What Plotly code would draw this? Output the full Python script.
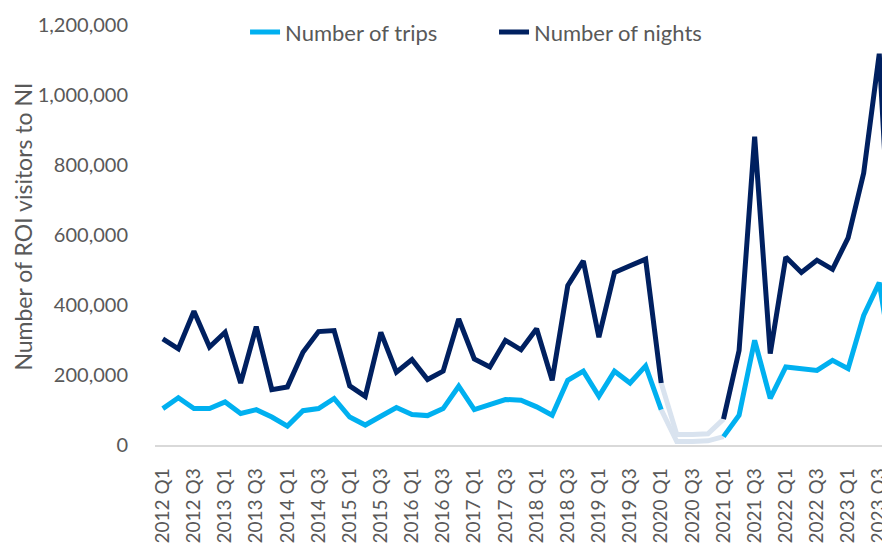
import plotly.graph_objects as go

quarters = [f"{y} Q{q}" for y in range(2012, 2024) for q in range(1, 5)]

trips = [104000, 135000, 104000, 104000, 123000, 90000, 101000, 80000, 54000, 98000,
         104000, 133000, 80000, 57000, 82000, 107000, 87000, 84000, 104000, 168000,
         101000, 114000, 130000, 128000, 109000, 85000, 185000, 211000, 139000, 211000,
         177000, 226000, 101000, 10000, 10000, 12000, 24000, 85000, 299000, 133000,
         223000, 218000, 213000, 242000, 218000, 370000, 464000, 189000]

nights = [303000, 275000, 382000, 280000, 322000, 177000, 338000, 158000, 166000, 265000,
          324000, 327000, 169000, 139000, 322000, 208000, 244000, 187000, 211000, 360000,
          246000, 223000, 299000, 272000, 332000, 185000, 455000, 526000, 308000, 493000,
          512000, 531000, 177000, 30000, 30000, 32000, 74000, 270000, 881000, 261000,
          537000, 493000, 528000, 502000, 592000, 777000, 1118000, 300000]

# quarters affected by the data-collection gap (drawn in a pale colour)
gap_quarters = ["2020 Q1", "2020 Q2", "2020 Q3", "2020 Q4", "2021 Q1"]
inner_gap = gap_quarters[1:-1]

y_ticks = [0, 200000, 400000, 600000, 800000, 1000000, 1200000]

TRIPS_C = "#00B0F0"
NIGHTS_C = "#002060"
GAP_C = "#D9E3EF"
TEXT_C = "#595959"
FONT = "Lato"

def main_part(vals):
    return [None if q in inner_gap else v for q, v in zip(quarters, vals)]

def gap_part(vals):
    return [v if q in gap_quarters else None for q, v in zip(quarters, vals)]

fig = go.Figure()
fig.add_trace(go.Scatter(x=quarters, y=gap_part(nights), mode="lines",
                         line=dict(color=GAP_C, width=5), showlegend=False,
                         hoverinfo="skip"))
fig.add_trace(go.Scatter(x=quarters, y=gap_part(trips), mode="lines",
                         line=dict(color=GAP_C, width=5), showlegend=False,
                         hoverinfo="skip"))
fig.add_trace(go.Scatter(x=quarters, y=main_part(trips), mode="lines",
                         name="Number of trips",
                         line=dict(color=TRIPS_C, width=5)))
fig.add_trace(go.Scatter(x=quarters, y=main_part(nights), mode="lines",
                         name="Number of nights",
                         line=dict(color=NIGHTS_C, width=5)))

fig.update_layout(
    width=890, height=544,
    margin=dict(l=147, r=8, t=17, b=107, autoexpand=False),
    paper_bgcolor="white", plot_bgcolor="white",
    font=dict(family=FONT, size=20, color=TEXT_C),
    legend=dict(orientation="h", x=0.1225, xanchor="left", y=0.983, yanchor="middle",
                font=dict(size=22, color=TEXT_C), bgcolor="rgba(0,0,0,0)",
                entrywidth=204, traceorder="normal"),
    xaxis=dict(type="category", categoryorder="array", categoryarray=quarters,
               range=[-0.5, 46.69],
               tickmode="array", tickvals=quarters[::2], ticktext=quarters[::2],
               tickangle=-90, tickfont=dict(size=19, color=TEXT_C),
               ticks="outside", ticklen=14, tickcolor="rgba(0,0,0,0)",
               showline=True, linecolor="#D9D9D9", linewidth=1.5,
               showgrid=False, zeroline=False, automargin=False),
    yaxis=dict(range=[0, 1200000], tickvals=y_ticks, tickformat=",",
               tickfont=dict(size=20, color=TEXT_C),
               ticks="outside", ticklen=22, tickcolor="rgba(0,0,0,0)",
               showgrid=False, zeroline=False, showline=False, automargin=False),
    annotations=[dict(text="Number of ROI visitors to NI", textangle=-90,
                      xref="paper", yref="paper", x=(23 - 155) / 735, y=0.52,
                      xanchor="center", yanchor="middle", showarrow=False,
                      font=dict(size=23, color=TEXT_C, family=FONT))],
)

fig.write_html("out.html")
